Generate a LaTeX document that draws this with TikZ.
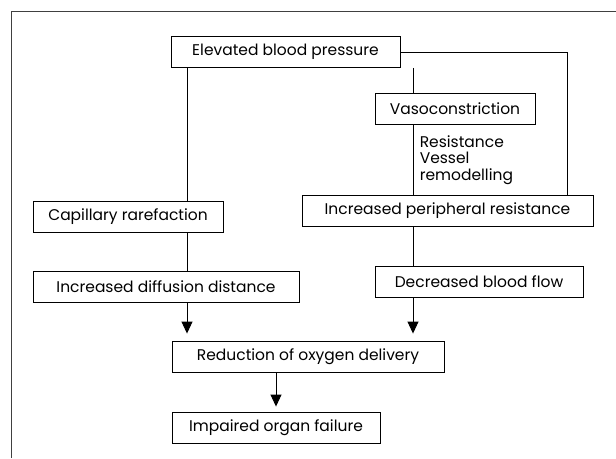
\documentclass[tikz,border=0pt]{standalone}
\usepackage{fontspec}
\setmainfont{Poppins}
\usetikzlibrary{arrows.meta}

\begin{document}
\begin{tikzpicture}[x=1pt,y=-1pt,>={Triangle[width=11pt,length=12pt]},line width=0.9pt,
    box/.style={draw,minimum height=31pt,inner sep=0pt,font=\fontsize{15.5}{16.5}\selectfont},
    every node/.style={align=center}]
          \useasboundingbox (0,0) rectangle (616,458);
          \draw[black!75] (11,458) -- (11,11) -- (616,11);

          \node[box,minimum width=229pt] (A) at (285.5,52) {Elevated blood pressure};
          \node[box,minimum width=160pt] (B) at (455,108.5) {Vasoconstriction};
          \node[box,minimum width=291pt] (C) at (447.5,211) {Increased peripheral resistance};
          \node[box,minimum width=208pt] (D) at (479,281.5) {Decreased blood flow};
          \node[box,minimum width=190pt] (E) at (128,216.5) {Capillary rarefaction};
          \node[box,minimum width=266pt] (F) at (166,286.5) {Increased diffusion distance};
          \node[box,minimum width=272pt] (G) at (308,356.5) {Reduction of oxygen delivery};
          \node[box,minimum width=208pt] (H) at (276,427.5) {Impaired organ failure};

          \coordinate (l) at (187,0);
          \coordinate (m) at (413,0);
          \coordinate (r) at (567,0);

          \draw (A.east) -| (C.north -| r);
          \draw (A.south -| m) -- (B.north -| m);
          \draw (B.south -| m) -- (C.north -| m)
            node [pos=0.5,right=3pt,align=left,font=\fontsize{15.5}{16.5}\selectfont] {Resistance\\Vessel\\remodelling};
          \draw (C.south -| m) -- (D.north -| m);
          \draw (A.south -| l) -- (E.north -| l);
          \draw (E.south -| l) -- (F.north -| l);

          \path[->,shorten >=7pt]
            (F.south -| l) edge (G.north -| l)
            (D.south -| m) edge (G.north -| m);
          \draw[->,shorten >=5pt] (G.south -| H.north) -- (H.north);
        \end{tikzpicture}
\end{document}
